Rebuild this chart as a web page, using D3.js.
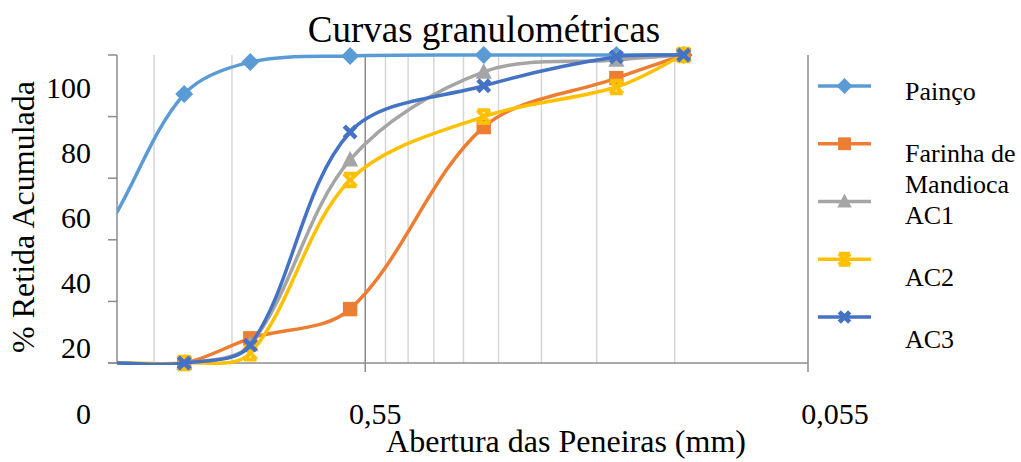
<!DOCTYPE html>
<html>
<head>
<meta charset="utf-8">
<script src="https://cdn.jsdelivr.net/npm/d3@7"></script>
<style>
  body { margin: 0; background: #fff; }
</style>
</head>
<body>
<div id="chart"></div>
<script>
// sieve openings (mm) and cumulative % retained
const aberturas = [2.0, 1.41, 1.0, 0.595, 0.297, 0.149, 0.105];
const painco   = [49, 87.3, 97.7, 99.7, 100, 100, 100];
const farinha  = [0, 0, 8, 17.5, 76.6, 92.5, 100];
const ac1      = [0, 0, 6, 66, 94.5, 98.4, 100];
const ac2      = [0, 0, 3.2, 59.4, 80, 89.6, 100];
const ac3      = [0, 0, 5.8, 75, 90, 99.4, 100];

const seriesNames = ["Painço", "Farinha de Mandioca", "AC1", "AC2", "AC3"];
const seriesValues = [painco, farinha, ac1, ac2, ac3];
const seriesColors = ["#5B9BD5", "#ED7D31", "#A5A5A5", "#FFC000", "#4472C4"];
const seriesMarkers = ["diamond", "square", "triangle", "star", "x"];

const yTicks = [0, 20, 40, 60, 80, 100];
const xLabels = [{v: 0.55, t: "0,55"}, {v: 0.055, t: "0,055"}];

const FONT = "'Liberation Serif', 'Times New Roman', 'DejaVu Serif', serif";
const width = 1021, height = 462;
const svg = d3.select("#chart").append("svg")
    .attr("width", width).attr("height", height)
    .attr("font-family", FONT);

const x = d3.scaleLog().domain([2, 0.055]).range([117, 808]);
const y = d3.scaleLinear().domain([0, 100]).range([363, 55]);
// labels sit a bit lower than their ticks in the original
const yLab = d3.scaleLinear().domain([0, 100]).range([413, 87]);

// gridlines
const minor = [];
[0.055, 0.55].forEach(b => { for (let k = 2; k <= 9; k++) { const v = b * k; if (v <= 2.0001) minor.push(v); } });
svg.append("g").selectAll("line").data(minor).join("line")
    .attr("x1", d => x(d)).attr("x2", d => x(d))
    .attr("y1", y(100)).attr("y2", y(0))
    .attr("stroke", "#d6d6d6").attr("stroke-width", 1.5);
svg.append("g").selectAll("line").data([0.55, 0.055]).join("line")
    .attr("x1", d => x(d)).attr("x2", d => x(d))
    .attr("y1", y(100)).attr("y2", y(0) + 9)
    .attr("stroke", "#8c8c8c").attr("stroke-width", 1.5);

// axes
const axisG = svg.append("g").attr("stroke", "#8c8c8c").attr("stroke-width", 1.5);
axisG.append("line").attr("x1", x(2)).attr("x2", x(2)).attr("y1", y(100)).attr("y2", y(0));
axisG.append("line").attr("x1", x(2) - 9).attr("x2", x(0.055)).attr("y1", y(0)).attr("y2", y(0));
axisG.selectAll(".yt").data(yTicks).join("line")
    .attr("x1", x(2) - 9).attr("x2", x(2))
    .attr("y1", d => y(d)).attr("y2", d => y(d));

svg.append("g").selectAll("text").data(yTicks).join("text")
    .attr("x", 91).attr("y", d => yLab(d))
    .attr("text-anchor", "end").attr("dominant-baseline", "central")
    .style("font-size", "30px")
    .text(d => d);

svg.append("g").selectAll("text").data(xLabels).join("text")
    .attr("x", d => x(d.v) + (d.v === 0.55 ? 10 : 27)).attr("y", 413)
    .attr("text-anchor", "middle").attr("dominant-baseline", "central")
    .style("font-size", "30px")
    .text(d => d.t);

// titles
svg.append("text").attr("x", 484).attr("y", 42).attr("text-anchor", "middle")
    .style("font-size", "37px").text("Curvas granulométricas");
svg.append("text").attr("x", 566).attr("y", 452).attr("text-anchor", "middle")
    .style("font-size", "32px").text("Abertura das Peneiras (mm)");
svg.append("text").attr("transform", "translate(34,217) rotate(-90)").attr("text-anchor", "middle")
    .style("font-size", "32px").text("% Retida Acumulada");

// Excel-style smoothing: bezier handles scaled by neighbouring segment lengths
function excelSmooth(context) {
    let pts;
    return {
        lineStart() { pts = []; },
        point(px, py) { pts.push([px, py]); },
        lineEnd() {
            const n = pts.length;
            if (!n) return;
            context.moveTo(pts[0][0], pts[0][1]);
            const dist = (a, b) => Math.hypot(b[0] - a[0], b[1] - a[1]);
            for (let i = 0; i < n - 1; i++) {
                const p0 = pts[Math.max(i - 1, 0)], p1 = pts[i], p2 = pts[i + 1], p3 = pts[Math.min(i + 2, n - 1)];
                const d01 = dist(p0, p1), d12 = dist(p1, p2), d23 = dist(p2, p3);
                const f1 = d01 + d12 > 0 ? d12 / (d01 + d12) / 3 : 0;
                const f2 = d12 + d23 > 0 ? d12 / (d12 + d23) / 3 : 0;
                context.bezierCurveTo(
                    p1[0] + (p2[0] - p0[0]) * f1, p1[1] + (p2[1] - p0[1]) * f1,
                    p2[0] - (p3[0] - p1[0]) * f2, p2[1] - (p3[1] - p1[1]) * f2,
                    p2[0], p2[1]);
            }
        },
        areaStart() {}, areaEnd() {}
    };
}

svg.append("clipPath").attr("id", "plot-clip").append("rect")
    .attr("x", x(2)).attr("y", y(100) - 3).attr("width", x(0.055) - x(2)).attr("height", y(0) - y(100) + 5);

const line = d3.line()
    .x(d => x(d[0])).y(d => y(d[1]))
    .curve(excelSmooth);

function drawMarker(g, type, color, s) {
    if (type === "diamond") {
        g.append("path").attr("d", `M0,${-s}L${s},0L0,${s}L${-s},0Z`).attr("fill", color);
    } else if (type === "square") {
        g.append("rect").attr("x", -s * 0.8).attr("y", -s * 0.8).attr("width", s * 1.6).attr("height", s * 1.6).attr("fill", color);
    } else if (type === "triangle") {
        g.append("path").attr("d", `M0,${-s}L${s * 0.9},${s * 0.75}L${-s * 0.9},${s * 0.75}Z`).attr("fill", color);
    } else if (type === "star") {
        const r = s * 0.7;
        g.append("path").attr("d", `M${-r},${-r}L${r},${r}M${r},${-r}L${-r},${r}M${-r},${-r}L${r},${-r}M${-r},${r}L${r},${r}`)
            .attr("stroke", color).attr("stroke-width", 4).attr("fill", "none");
    } else {
        const r = s * 0.65;
        g.append("path").attr("d", `M${-r},${-r}L${r},${r}M${r},${-r}L${-r},${r}`)
            .attr("stroke", color).attr("stroke-width", 4.5).attr("fill", "none");
    }
}

seriesValues.forEach((vals, i) => {
    const pts = aberturas.map((a, j) => [a, vals[j]]);
    svg.append("path").datum(pts)
        .attr("clip-path", "url(#plot-clip)")
        .attr("d", line)
        .attr("fill", "none")
        .attr("stroke", seriesColors[i])
        .attr("stroke-width", 3.5)
        .attr("stroke-linecap", "round");
    pts.slice(1).forEach(p => {
        const g = svg.append("g").attr("transform", `translate(${x(p[0])},${y(p[1])})`);
        drawMarker(g, seriesMarkers[i], seriesColors[i], 9);
    });
});

// legend
const legendLineY = d3.scaleLinear().domain([0, 4]).range([86, 317]);
const legendTextY = d3.scaleLinear().domain([0, 4]).range([100, 348]);
seriesNames.forEach((name, i) => {
    const ly = legendLineY(i);
    svg.append("line").attr("x1", 818).attr("x2", 871).attr("y1", ly).attr("y2", ly)
        .attr("stroke", seriesColors[i]).attr("stroke-width", 3.5);
    const g = svg.append("g").attr("transform", `translate(844.5,${ly})`);
    drawMarker(g, seriesMarkers[i], seriesColors[i], 8);
    const words = name === "Farinha de Mandioca" ? ["Farinha de", "Mandioca"] : [name];
    const t = svg.append("text").attr("x", 905).attr("y", legendTextY(i)).style("font-size", "26px");
    words.forEach((w, k) => t.append("tspan").attr("x", 905).attr("dy", k ? 31 : 0).text(w));
});
</script>
</body>
</html>
